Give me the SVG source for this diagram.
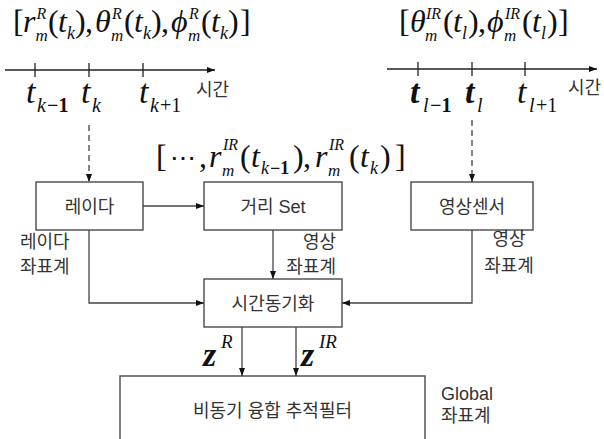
<svg xmlns="http://www.w3.org/2000/svg" width="604" height="439" viewBox="0 0 604 439">
<defs>
<style>
.box{fill:#fff;stroke:#555;stroke-width:1.5}
.ko{font-family:"Liberation Sans","Noto Sans CJK KR",sans-serif;font-size:18px;fill:#333}
.m{font-family:"Liberation Serif","Times New Roman","DejaVu Serif",serif;fill:#111}
.i{font-style:italic}
.b{font-weight:bold}
.ln{stroke:#444;stroke-width:1.3;fill:none}
.ax{stroke:#222;stroke-width:1.3;fill:none}
.dash{stroke:#444;stroke-width:1.3;fill:none;stroke-dasharray:6 4}
</style>
<marker id="ah" viewBox="0 0 8 6" refX="8" refY="3" markerWidth="8" markerHeight="6" markerUnits="userSpaceOnUse" orient="auto">
<path d="M0,0 L8,3 L0,6 z" fill="#111"/>
</marker>
</defs>
<rect width="604" height="439" fill="#fff"/>

<g id="timeline-radar">
<line class="ax" x1="5" y1="70" x2="215" y2="70" marker-end="url(#ah)"/>
<line class="ax" x1="35" y1="63" x2="35" y2="77"/>
<line class="ax" x1="89" y1="63" x2="89" y2="77"/>
<line class="ax" x1="143" y1="63" x2="143" y2="77"/>
<text class="m" font-size="34"><tspan class="i" x="26" y="103">t</tspan><tspan class="i" x="37" y="112" font-size="20">k</tspan><tspan class="b" x="47" y="112" font-size="20">−1</tspan></text>
<text class="m" font-size="34"><tspan class="i" x="81" y="103">t</tspan><tspan class="i" x="92" y="112" font-size="20">k</tspan></text>
<text class="m" font-size="34"><tspan class="i" x="139" y="103">t</tspan><tspan class="i" x="150" y="112" font-size="20">k</tspan><tspan x="160" y="112" font-size="20">+1</tspan></text>
<text class="ko" x="196" y="96">시간</text>
<text class="m" font-size="32"><tspan x="13" y="32">[</tspan><tspan class="i" x="23" y="32">r</tspan><tspan class="i" x="36.5" y="19" font-size="16">R</tspan><tspan class="i" x="35.5" y="41" font-size="17">m</tspan><tspan x="48" y="32">(</tspan><tspan class="i" x="58" y="32">t</tspan><tspan class="i" x="67" y="39" font-size="18">k</tspan><tspan x="75" y="32">)</tspan><tspan x="85" y="32">,</tspan><tspan class="i" x="95" y="32">θ</tspan><tspan class="i" x="112" y="19" font-size="16">R</tspan><tspan class="i" x="111" y="41" font-size="17">m</tspan><tspan x="124" y="32">(</tspan><tspan class="i" x="134" y="32">t</tspan><tspan class="i" x="143" y="39" font-size="18">k</tspan><tspan x="151" y="32">)</tspan><tspan x="161" y="32">,</tspan><tspan class="i" x="171" y="32">ϕ</tspan><tspan class="i" x="189" y="19" font-size="16">R</tspan><tspan class="i" x="188" y="41" font-size="17">m</tspan><tspan x="201" y="32">(</tspan><tspan class="i" x="211" y="32">t</tspan><tspan class="i" x="220" y="39" font-size="18">k</tspan><tspan x="228" y="32">)</tspan><tspan x="240" y="32">]</tspan></text>
</g>

<g id="timeline-ir">
<line class="ax" x1="387" y1="69" x2="597" y2="69" marker-end="url(#ah)"/>
<line class="ax" x1="418" y1="62" x2="418" y2="76"/>
<line class="ax" x1="472" y1="62" x2="472" y2="76"/>
<line class="ax" x1="525" y1="62" x2="525" y2="76"/>
<text class="m" font-size="34"><tspan class="i b" x="410" y="103">t</tspan><tspan class="i" x="423" y="112" font-size="20">l</tspan><tspan class="b" x="430" y="112" font-size="20">−1</tspan></text>
<text class="m" font-size="34"><tspan class="i b" x="465" y="103">t</tspan><tspan class="i" x="477" y="112" font-size="20">l</tspan></text>
<text class="m" font-size="34"><tspan class="i" x="517" y="103">t</tspan><tspan class="i" x="529" y="112" font-size="20">l</tspan><tspan x="536" y="112" font-size="20">+1</tspan></text>
<text class="ko" x="568" y="94">시간</text>
<text class="m" font-size="32"><tspan x="399" y="32">[</tspan><tspan class="i" x="410" y="32">θ</tspan><tspan class="i" x="426" y="19" font-size="16">IR</tspan><tspan class="i" x="425" y="41" font-size="17">m</tspan><tspan x="443" y="32">(</tspan><tspan class="i" x="453" y="32">t</tspan><tspan class="i" x="462" y="39" font-size="18">l</tspan><tspan x="468" y="32">)</tspan><tspan x="478" y="32">,</tspan><tspan class="i" x="487" y="32">ϕ</tspan><tspan class="i" x="505" y="19" font-size="16">IR</tspan><tspan class="i" x="504" y="41" font-size="17">m</tspan><tspan x="522" y="32">(</tspan><tspan class="i" x="532" y="32">t</tspan><tspan class="i" x="541" y="39" font-size="18">l</tspan><tspan x="547" y="32">)</tspan><tspan x="558" y="32">]</tspan></text>
</g>

<g id="range-set-label">
<text class="m" font-size="32"><tspan x="156" y="167">[</tspan><tspan x="170" y="167" font-size="26">⋯</tspan><tspan x="199" y="167">,</tspan><tspan class="i" x="209" y="167">r</tspan><tspan class="i" x="223" y="150" font-size="16">IR</tspan><tspan class="i" x="222" y="176" font-size="17">m</tspan><tspan x="240" y="167">(</tspan><tspan class="i" x="251" y="167">t</tspan><tspan class="i" x="261" y="174" font-size="18">k</tspan><tspan x="270" y="174" font-size="18" class="b">−1</tspan><tspan x="293" y="167">)</tspan><tspan x="303" y="167">,</tspan><tspan class="i" x="315" y="167">r</tspan><tspan class="i" x="329" y="150" font-size="16">IR</tspan><tspan class="i" x="328" y="176" font-size="17">m</tspan><tspan x="349" y="167">(</tspan><tspan class="i" x="360" y="167">t</tspan><tspan class="i" x="370" y="174" font-size="18">k</tspan><tspan x="380" y="167">)</tspan><tspan x="395" y="167">]</tspan></text>
</g>

<g id="radar">
<rect class="box" x="36" y="182" width="107" height="48"/>
<text class="ko" x="89.5" y="212.5" text-anchor="middle">레이다</text>
</g>
<g id="range-set">
<rect class="box" x="204" y="182" width="138" height="48"/>
<text class="ko" x="273" y="212.5" text-anchor="middle">거리 Set</text>
</g>
<g id="image-sensor">
<rect class="box" x="411" y="182" width="122" height="48"/>
<text class="ko" x="472" y="212.5" text-anchor="middle">영상센서</text>
</g>
<g id="time-sync">
<rect class="box" x="204" y="279" width="138" height="48"/>
<text class="ko" x="273" y="309.5" text-anchor="middle">시간동기화</text>
</g>
<g id="fusion-filter">
<rect class="box" x="120" y="376" width="305" height="64"/>
<text class="ko" x="272.5" y="416.5" text-anchor="middle">비동기 융합 추적필터</text>
</g>

<g id="labels">
<text class="ko" x="20" y="248">레이다</text>
<text class="ko" x="20" y="273">좌표계</text>
<text class="ko" x="336" y="248" text-anchor="end">영상</text>
<text class="ko" x="336" y="273" text-anchor="end">좌표계</text>
<text class="ko" x="509" y="245" text-anchor="middle">영상</text>
<text class="ko" x="509" y="272" text-anchor="middle">좌표계</text>
<text class="ko" x="441" y="400" font-size="17">Global</text>
<text class="ko" x="441" y="422">좌표계</text>
<text class="m" font-size="34"><tspan class="i b" x="203" y="366">z</tspan><tspan class="i" x="221" y="348" font-size="19">R</tspan></text>
<text class="m" font-size="34"><tspan class="i b" x="301" y="366">z</tspan><tspan class="i" x="319" y="348" font-size="19">IR</tspan></text>
</g>

<g id="connectors">
<line class="dash" x1="89" y1="125" x2="89" y2="182" marker-end="url(#ah)"/>
<line class="dash" x1="472" y1="120" x2="472" y2="182" marker-end="url(#ah)"/>
<line class="ln" x1="143" y1="206" x2="204" y2="206" marker-end="url(#ah)"/>
<line class="ln" x1="273" y1="230" x2="273" y2="279" marker-end="url(#ah)"/>
<polyline class="ln" points="89,230 89,303 204,303" marker-end="url(#ah)"/>
<polyline class="ln" points="472,230 472,303 342,303" marker-end="url(#ah)"/>
<line class="ln" x1="242" y1="327" x2="242" y2="376" marker-end="url(#ah)"/>
<line class="ln" x1="296" y1="327" x2="296" y2="376" marker-end="url(#ah)"/>
</g>
</svg>
